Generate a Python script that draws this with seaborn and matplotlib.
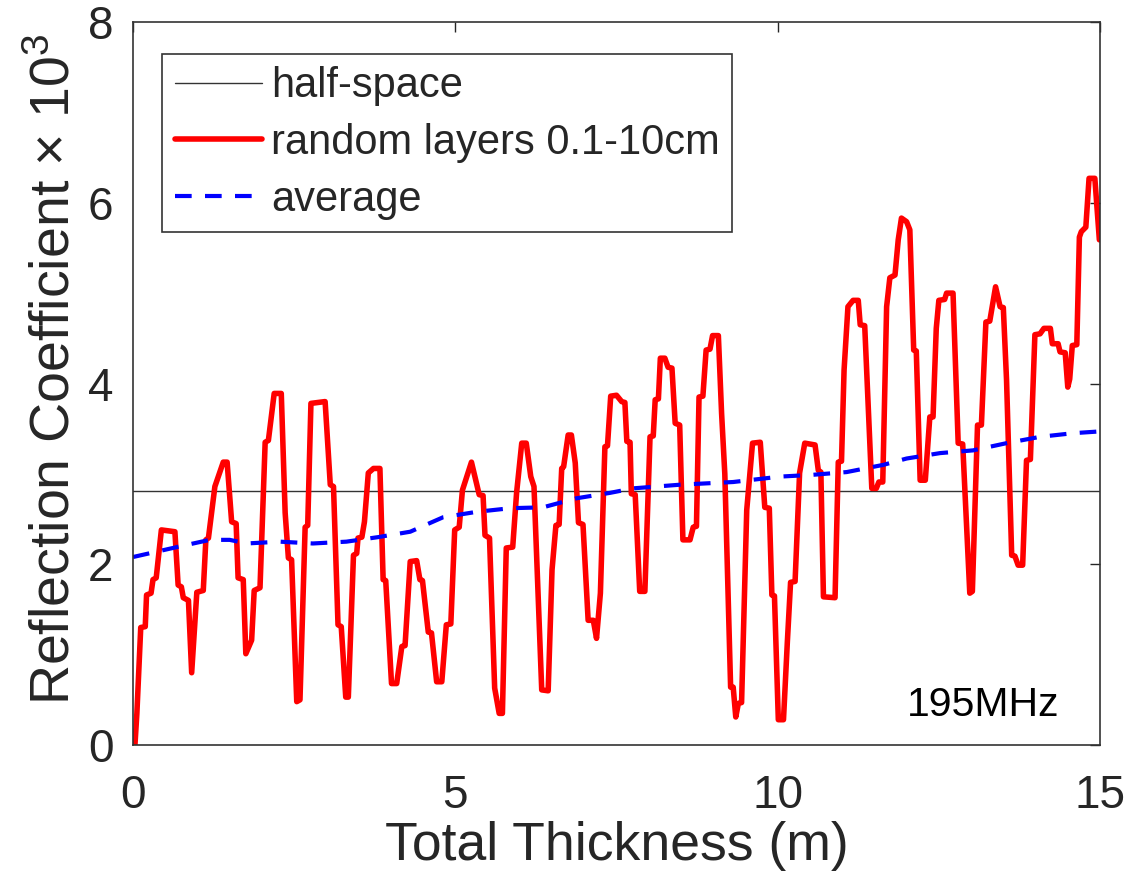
import matplotlib
matplotlib.use('Agg')
import matplotlib.pyplot as plt
import numpy as np
import pandas as pd
import seaborn as sns

# thickness (m) and reflection coefficient (x1e3) for the random layer stack
layer_x = [0.03, 0.06, 0.12, 0.19, 0.21, 0.28, 0.31, 0.36, 0.44, 0.65, 0.70, 0.75, 0.78, 0.86,
           0.91, 0.99, 1.09, 1.13, 1.17, 1.27, 1.40, 1.46, 1.53, 1.60, 1.63, 1.71, 1.75, 1.84,
           1.88, 1.97, 2.05, 2.10, 2.19, 2.30, 2.36, 2.41, 2.46, 2.54, 2.59, 2.67, 2.71, 2.76,
           2.98, 3.06, 3.11, 3.18, 3.23, 3.30, 3.34, 3.42, 3.47, 3.49, 3.55, 3.59, 3.65, 3.73,
           3.83, 3.88, 3.92, 4.01, 4.09, 4.17, 4.22, 4.30, 4.40, 4.45, 4.49, 4.58, 4.63, 4.71,
           4.79, 4.86, 4.93, 4.99, 5.06, 5.11, 5.25, 5.37, 5.43, 5.46, 5.53, 5.61, 5.68, 5.73,
           5.79, 5.89, 5.95, 6.03, 6.10, 6.17, 6.22, 6.34, 6.44, 6.50, 6.56, 6.61, 6.65, 6.68,
           6.75, 6.80, 6.86, 6.91, 6.98, 7.06, 7.14, 7.19, 7.25, 7.29, 7.32, 7.36, 7.41, 7.50,
           7.58, 7.63, 7.66, 7.71, 7.73, 7.79, 7.86, 7.94, 8.02, 8.07, 8.10, 8.15, 8.18, 8.25,
           8.30, 8.36, 8.41, 8.48, 8.53, 8.64, 8.69, 8.74, 8.78, 8.84, 8.89, 8.95, 8.99, 9.08,
           9.13, 9.18, 9.27, 9.31, 9.35, 9.39, 9.44, 9.52, 9.56, 9.61, 9.73, 9.80, 9.87, 9.91,
           9.95, 10.01, 10.09, 10.15, 10.20, 10.27, 10.34, 10.42, 10.50, 10.58, 10.63, 10.67,
           10.71, 10.89, 10.94, 10.99, 11.03, 11.09, 11.17, 11.25, 11.28, 11.35, 11.46, 11.53,
           11.57, 11.63, 11.69, 11.74, 11.82, 11.87, 11.92, 12.00, 12.05, 12.11, 12.15, 12.21,
           12.29, 12.36, 12.41, 12.46, 12.50, 12.59, 12.62, 12.72, 12.80, 12.87, 12.98, 13.02,
           13.10, 13.16, 13.23, 13.29, 13.38, 13.45, 13.50, 13.55, 13.63, 13.68, 13.73, 13.80,
           13.86, 13.92, 13.99, 14.07, 14.13, 14.23, 14.26, 14.35, 14.38, 14.46, 14.50, 14.53,
           14.57, 14.64, 14.68, 14.71, 14.78, 14.83, 14.92, 14.99]
layer_r = [0.00, 0.35, 1.30, 1.31, 1.66, 1.68, 1.83, 1.85, 2.38, 2.36, 1.77, 1.75, 1.63, 1.60,
           0.80, 1.69, 1.71, 2.27, 2.29, 2.86, 3.13, 3.13, 2.47, 2.45, 1.85, 1.83, 1.01, 1.16,
           1.71, 1.74, 3.35, 3.37, 3.89, 3.89, 2.57, 2.07, 2.05, 0.48, 0.50, 2.41, 2.43, 3.78,
           3.80, 2.88, 2.86, 1.33, 1.31, 0.53, 0.53, 2.10, 2.12, 2.29, 2.30, 2.47, 3.01, 3.06,
           3.06, 1.83, 1.82, 0.68, 0.68, 1.09, 1.10, 2.03, 2.04, 1.83, 1.82, 1.25, 1.24, 0.70,
           0.70, 1.33, 1.34, 2.38, 2.41, 2.82, 3.13, 2.77, 2.76, 2.32, 2.29, 0.63, 0.35, 0.35,
           2.18, 2.19, 2.79, 3.34, 3.34, 2.97, 2.86, 0.61, 0.60, 1.94, 2.43, 2.44, 3.06, 3.08,
           3.43, 3.43, 3.12, 2.46, 2.44, 1.38, 1.38, 1.18, 1.68, 2.60, 3.30, 3.31, 3.86, 3.87,
           3.80, 3.79, 3.36, 3.35, 2.78, 2.77, 1.70, 1.70, 3.41, 3.42, 3.82, 3.83, 4.28, 4.28,
           4.18, 4.17, 3.56, 3.54, 2.27, 2.27, 2.41, 2.42, 3.85, 3.86, 4.37, 4.38, 4.53, 4.53,
           3.67, 3.00, 0.64, 0.64, 0.31, 0.46, 0.47, 2.60, 2.93, 3.34, 3.35, 2.63, 2.62, 1.66,
           1.65, 0.28, 0.28, 1.14, 1.80, 1.81, 3.01, 3.34, 3.33, 3.32, 3.04, 3.02,
           1.64, 1.63, 3.13, 3.14, 4.15, 4.85, 4.92, 4.92, 4.65, 4.64, 2.84, 2.84,
           2.91, 2.91, 4.85, 5.17, 5.20, 5.59, 5.83, 5.79, 5.70, 4.37, 4.36, 2.93,
           2.93, 3.63, 3.63, 4.61, 4.92, 4.93, 5.00, 5.00, 3.34, 3.33, 1.68, 1.70,
           3.54, 3.54, 4.68, 4.69, 5.07, 4.85, 4.84, 4.04, 2.10, 2.09, 1.99, 1.99,
           3.15, 3.16, 4.54, 4.55, 4.61, 4.61, 4.44, 4.44, 4.35, 4.34, 3.96, 4.05,
           4.42, 4.43, 5.62, 5.68, 5.73, 6.27, 6.27, 5.59]

# running average over realisations
avg_x = [0.0, 0.68, 1.19, 1.5, 1.76, 2.28, 2.79, 3.31, 3.80, 4.30, 4.81, 5.33, 5.85, 6.36,
         6.88, 7.40, 7.76, 8.48, 9.31, 10.04, 10.55, 11.07, 11.64, 12.0, 12.52, 13.03, 13.55,
         14.07, 14.58, 15.0]
avg_r = [2.08, 2.19, 2.27, 2.27, 2.23, 2.25, 2.23, 2.25, 2.30, 2.36, 2.52, 2.58, 2.62, 2.63,
         2.73, 2.79, 2.84, 2.88, 2.91, 2.97, 2.99, 3.02, 3.10, 3.17, 3.23, 3.26, 3.34,
         3.41, 3.45, 3.47]

half_space = 2.81
freq_label = "195MHz"

sns.set_style("white")
plt.rcParams['font.family'] = ['Liberation Sans', 'DejaVu Sans']
plt.rcParams['mathtext.default'] = 'regular'

fig = plt.figure(figsize=(11.31, 8.9), dpi=100)
ax = fig.add_axes([0.1176, 0.1629, 0.855, 0.8124])

ax.axhline(half_space, color='#333333', linewidth=1.0, label='half-space')
sns.lineplot(x=layer_x, y=layer_r, ax=ax, color='#ff0000', linewidth=4.0,
             label='random layers 0.1-10cm', sort=False)
sns.lineplot(x=avg_x, y=avg_r, ax=ax, color='#0000ff', linewidth=3.0,
             linestyle=(0, (4.0, 3.2)), label='average')

ax.set_xlim(0, 15)
ax.set_ylim(0, 8)
ax.set_xticks([0, 5, 10, 15])
ax.set_yticks([0, 2, 4, 6, 8])

txt_color = '#262626'
ax.set_xlabel("Total Thickness (m)", fontsize=38.5, color=txt_color, labelpad=2)
ax.set_ylabel("Reflection Coefficient × 10$^3$", fontsize=40, color=txt_color)
ax.yaxis.set_label_coords(-0.053, 0.52)
ax.tick_params(axis='both', direction='in', length=7, width=1.0, labelsize=33,
               colors=txt_color, top=True, right=True)
ax.tick_params(axis='x', pad=21)
ax.tick_params(axis='y', pad=14)
for sp in ax.spines.values():
    sp.set_color('#333333')
    sp.set_linewidth(1.2)

ax.text(0.879, 0.055, freq_label, transform=ax.transAxes, fontsize=29.5,
        ha='center', va='center', color='black')

leg = ax.legend(loc='upper left', bbox_to_anchor=(0.030, 0.956), borderaxespad=0,
                fontsize=30, handlelength=2.1, handletextpad=0.22, labelspacing=0.4,
                borderpad=0.3, fancybox=False, frameon=True)
leg.get_frame().set_edgecolor('#333333')
leg.get_frame().set_linewidth(1.2)
leg.get_frame().set_alpha(1)

fig.savefig("out.png", dpi=100)
plt.close(fig)
